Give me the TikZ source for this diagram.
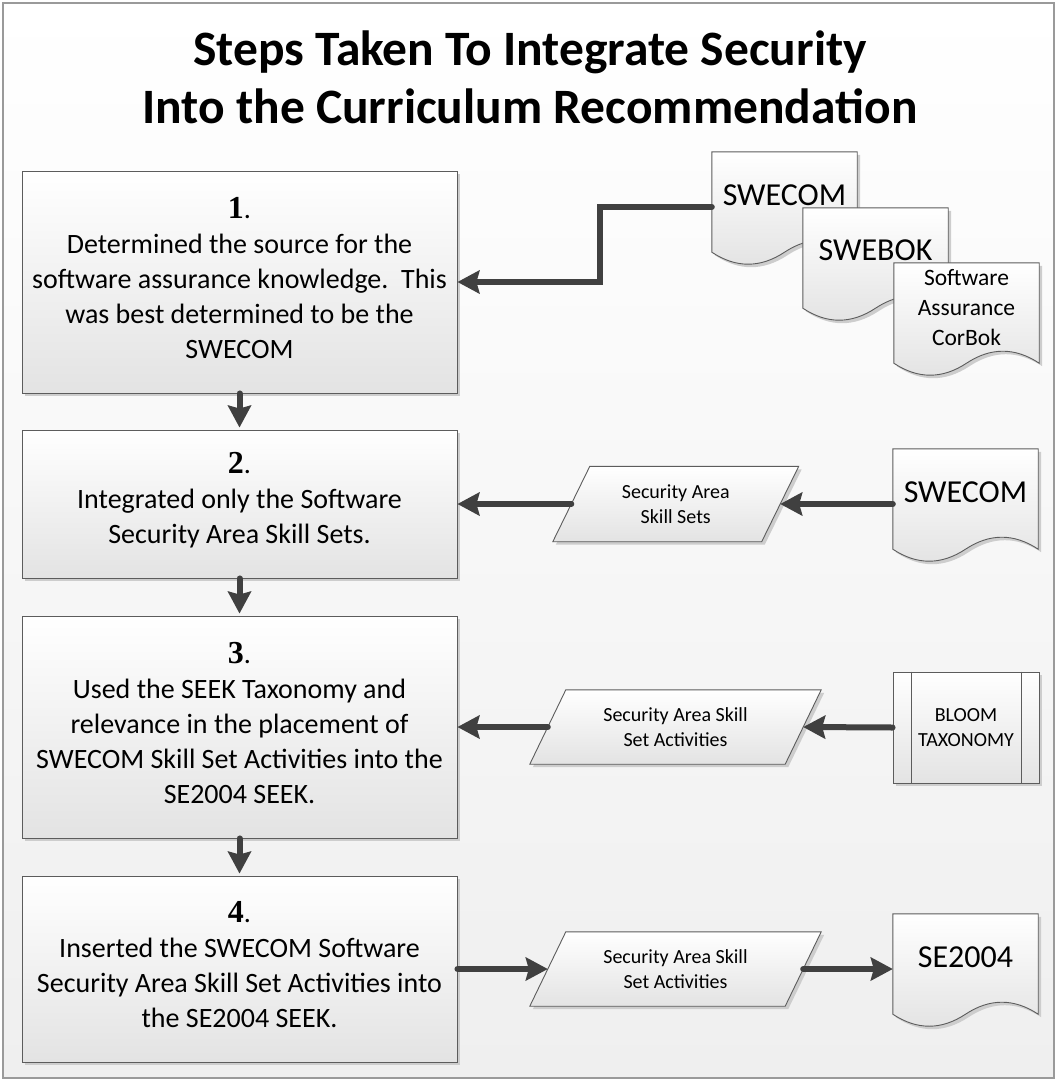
\documentclass[tikz,border=0pt]{standalone}
\usepackage{fontspec}
\setmainfont{Carlito}
\newfontfamily\numfont{Liberation Serif}
\usetikzlibrary{arrows.meta,calc}

\pgfdeclarelayer{page}
\pgfdeclarelayer{shadow}
\pgfdeclarelayer{shape}
\pgfsetlayers{page,shadow,shape,main}

\definecolor{edge}{HTML}{5C5C5C}
\definecolor{flow}{HTML}{404040}
\definecolor{shade}{HTML}{E3E3E3}
\definecolor{pagebot}{HTML}{EFEFEF}
\definecolor{framec}{HTML}{9A9A9A}
\definecolor{shadowc}{HTML}{CDCDCD}

\newcommand\stepno[1]{{\numfont\bfseries\fontsize{32}{35}\selectfont #1}.}

\tikzset{
  title/.style={align=center, font=\bfseries\fontsize{49.5}{58}\selectfont},
  stepbox/.style={rectangle, draw=edge, line width=0.9pt, top color=white,
    bottom color=shade, minimum width=435pt, inner sep=0pt},
  steptext/.style={align=center, font=\fontsize{28}{35}\selectfont},
  holder/.style={rectangle, inner sep=0pt, minimum width=145pt, minimum height=110pt},
  doctext/.style={align=center, font=\fontsize{32}{38}\selectfont},
  smalldoctext/.style={align=center, font=\fontsize{23.5}{30}\selectfont},
  partext/.style={align=center, inner sep=0pt, font=\fontsize{20}{25}\selectfont},
  outline/.style={draw=edge, line width=0.9pt, top color=white, bottom color=shade},
  dropshade/.style={fill=shadowc, transform canvas={shift={(3pt,-3pt)}}},
  flowarrow/.style={draw=flow, line width=6pt, line cap=round,
    -{Stealth[length=22pt,width=23pt,inset=3pt]}},
}

% document symbol with a wavy lower edge, built on a holder node
\newcommand\docoutline[1]{(#1.north west) -- (#1.north east)
  -- ($(#1.south east)+(0,-10)$)
  .. controls +(-24.2,-16) and +(24.2,-16) .. ($(#1.south)+(0,-10)$)
  .. controls +(-24.2,16) and +(24.2,16) .. ($(#1.south west)+(0,-10)$) -- cycle}

% parallelogram (data symbol) around a holder node
\newcommand\paroutline[2]{($(#1.north west)+(#2,0)$) -- ($(#1.north east)+(#2,0)$)
  -- ($(#1.south east)+(-#2,0)$) -- ($(#1.south west)+(-#2,0)$) -- cycle}

\begin{document}
\begin{tikzpicture}[x=1pt,y=-1pt]
\useasboundingbox (0,0) rectangle (1057,1081);

\begin{pgfonlayer}{page}
  \fill[white] (0,0) rectangle (1057,1081);
  \draw[framec, line width=1.2pt, top color=white, bottom color=pagebot]
    (3,3) rectangle (1054,1078);
\end{pgfonlayer}

% heading
\node[title] (title) at (530,77)
  {Steps Taken To Integrate Security\\Into the Curriculum Recommendation};

% the four steps
\node[stepbox, minimum height=222pt,
  label={[steptext,yshift=4pt]center:{\stepno{1}\\Determined the source for the\\software assurance knowledge.\ \ This\\was best determined to be the\\SWECOM}}]
  (box1) at (239.5,282) {};
\node[stepbox, minimum height=148pt,
  label={[steptext,yshift=4pt]center:{\stepno{2}\\Integrated only the Software\\Security Area Skill Sets.}}]
  (box2) at (239.5,504) {};
\node[stepbox, minimum height=222pt,
  label={[steptext,yshift=4pt]center:{\stepno{3}\\Used the SEEK Taxonomy and\\relevance in the placement of\\SWECOM Skill Set Activities into the\\SE2004 SEEK.}}]
  (box3) at (239.5,727) {};
\node[stepbox, minimum height=186pt,
  label={[steptext,yshift=4pt]center:{\stepno{4}\\Inserted the SWECOM Software\\Security Area Skill Set Activities into\\the SE2004 SEEK.}}]
  (box4) at (239.5,969) {};

% documents
\node[holder, label={[doctext,yshift=12pt]center:SWECOM}] (swecomA) at (784.5,207) {};
\node[holder, label={[doctext,yshift=13pt]center:SWEBOK}] (swebok) at (875.5,263) {};
\node[holder, label={[smalldoctext,yshift=10pt]center:{Software\\Assurance\\CorBok}}] (corbok) at (966.5,318) {};
\node[holder, label={[doctext,yshift=12pt]center:SWECOM}] (swecomB) at (965.5,504) {};
\node[holder, label={[doctext,yshift=12pt]center:SE2004}] (se2004) at (965.5,969) {};

% data symbols
\node[partext, minimum width=208.5pt, minimum height=75pt] (par2) at (675.75,504)
  {Security Area\\Skill Sets};
\node[partext, minimum width=255pt, minimum height=74pt] (par3) at (675.5,727)
  {Security Area Skill\\Set Activities};
\node[partext, minimum width=255pt, minimum height=74pt] (par4) at (675.5,969)
  {Security Area Skill\\Set Activities};

% predefined process
\node[stepbox, minimum width=146pt, minimum height=111pt, partext] (bloom) at (966,727.5)
  {BLOOM\\TAXONOMY};
\draw[edge, line width=0.9pt] ([xshift=19pt]bloom.north west) -- ([xshift=19pt]bloom.south west);
\draw[edge, line width=0.9pt] ([xshift=-18pt]bloom.north east) -- ([xshift=-18pt]bloom.south east);

\begin{pgfonlayer}{shape}
  \path[outline] \docoutline{swecomA};
  \path[outline] \docoutline{swebok};
  \path[outline] \docoutline{corbok};
  \path[outline] \docoutline{swecomB};
  \path[outline] \docoutline{se2004};
  \path[outline] \paroutline{par2}{18.5};
  \path[outline] \paroutline{par3}{18};
  \path[outline] \paroutline{par4}{18};
\end{pgfonlayer}

\begin{pgfonlayer}{shadow}
  \foreach \b in {box1,box2,box3,box4,bloom}
    \fill[dropshade] (\b.north west) rectangle (\b.south east);
  \foreach \d in {swecomA,swebok,corbok,swecomB,se2004}
    \path[dropshade] \docoutline{\d};
  \path[dropshade] \paroutline{par2}{18.5};
  \path[dropshade] \paroutline{par3}{18};
  \path[dropshade] \paroutline{par4}{18};
\end{pgfonlayer}

% connectors
\draw[flowarrow] (swecomA.west) -- ++(-112,0) |- (box1.east);
\draw[flowarrow, shorten >=2pt] (box1.south) -- (box2.north);
\draw[flowarrow, shorten >=2pt] (box2.south) -- (box3.north);
\draw[flowarrow, shorten >=2pt] (box3.south) -- (box4.north);
\draw[flowarrow] (swecomB.west) -- (par2.east);
\draw[flowarrow] (par2.west) -- (box2.east);
\draw[flowarrow] (bloom.west) -- (par3.east);
\draw[flowarrow] (par3.west) -- (box3.east);
\draw[flowarrow] (box4.east) -- (par4.west);
\draw[flowarrow] (par4.east) -- (se2004.west);

\end{tikzpicture}
\end{document}
